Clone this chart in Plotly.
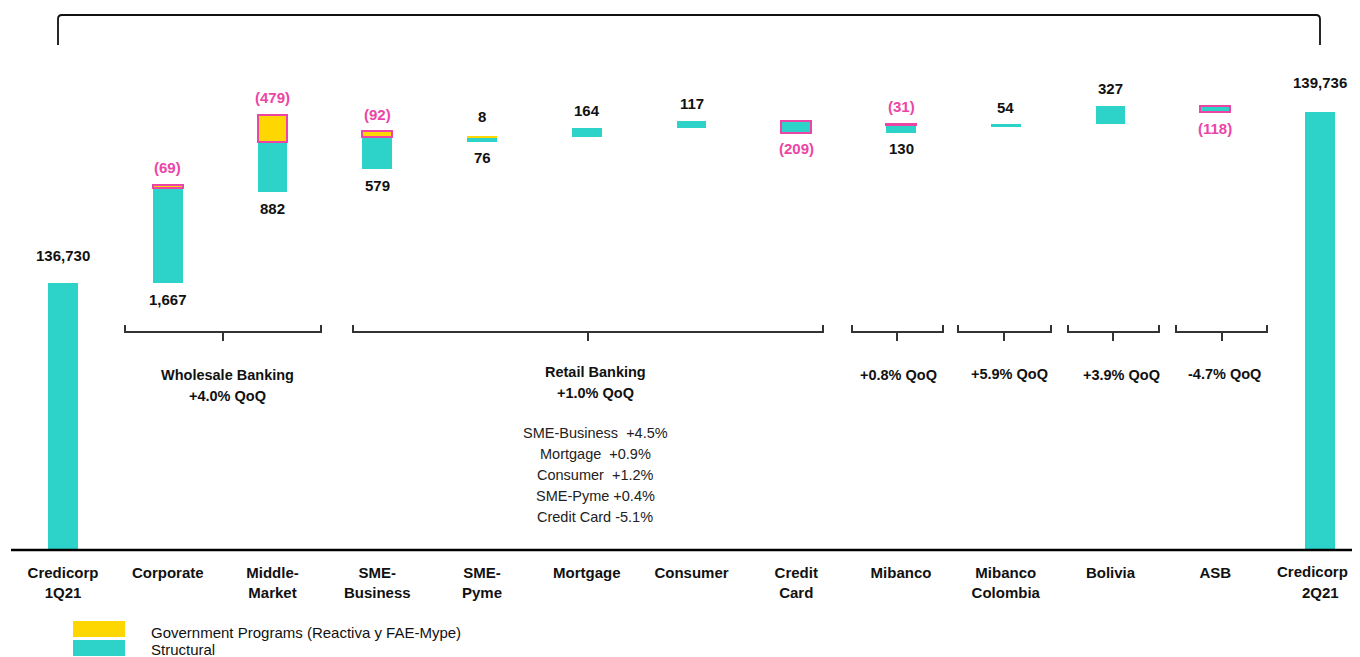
import plotly.graph_objects as go

# ---------------- data ----------------
categories = ["Credicorp<br>1Q21", "Corporate", "Middle-<br>Market", "SME-<br>Business", "SME-<br>Pyme",
              "Mortgage", "Consumer", "Credit<br>Card", "Mibanco", "Mibanco<br>Colombia", "Bolivia", "ASB",
              "Credicorp<br>2Q21"]
start_total = 136730
end_total = 139736
structural = [1667, 882, 579, 76, 164, 117, -209, 130, 54, 327, -118]
government = [-69, -479, -92, 8, None, None, None, -31, None, None, None]

group_titles = [["Wholesale Banking", "+4.0% QoQ"], ["Retail Banking", "+1.0% QoQ"],
                ["+0.8% QoQ"], ["+5.9% QoQ"], ["+3.9% QoQ"], ["-4.7% QoQ"]]
retail_detail = ["SME-Business  +4.5%", "Mortgage  +0.9%", "Consumer  +1.2%", "SME-Pyme +0.4%", "Credit Card -5.1%"]
legend_names = ["Government Programs (Reactiva y FAE-Mype)", "Structural"]

# ---------------- style ----------------
TEAL = "#2DD2C8"
YELLOW = "#FFD700"
PINK = "#EC45A6"
FONT = "Arial, Liberation Sans, sans-serif"
OFF = 8                  # page body margin of the browser
W, H = 1360 - 2 * OFF, 657 - OFF
AXIS_REF = 550           # pixel row of the category axis (reference coords)
AXIS_PX = AXIS_REF - OFF
X0_REF, STEP_PX = 63, 104.75
Y_MIN = 132042           # value at the axis line (broken axis)
PX_PER_UNIT = 0.05689


def xd(px_ref):
    return (px_ref - X0_REF) / STEP_PX


def pxp(px_ref):
    return (px_ref - OFF) / W


def py(py_ref):
    return (AXIS_REF - py_ref) / AXIS_PX


def fmt(v):
    return f"({abs(v):,})" if v < 0 else f"{v:,}"


n_mid = len(structural)
xs_mid = list(range(1, n_mid + 1))

# running totals
starts = []
r = start_total
for s, g in zip(structural, government):
    starts.append(r)
    r += s + (g or 0)

fig = go.Figure()

# totals
fig.add_trace(go.Bar(x=[0, n_mid + 1], y=[start_total - Y_MIN, end_total - Y_MIN], base=[Y_MIN, Y_MIN],
                     width=0.286, marker=dict(color=TEAL, line=dict(width=0)), showlegend=False,
                     hoverinfo="skip"))
# structural
fig.add_trace(go.Bar(x=xs_mid, y=structural, base=starts, width=0.286,
                     marker=dict(color=TEAL,
                                 line=dict(color=[PINK if s < 0 else TEAL for s in structural],
                                           width=[2 if s < 0 else 0 for s in structural])),
                     showlegend=False, hoverinfo="skip"))
# government programs (box on top of structural)
gx, gy, gb, glw = [], [], [], []
for i, (s, g, st) in enumerate(zip(structural, government, starts)):
    if g is None:
        continue
    gx.append(i + 1)
    gy.append(abs(g))
    gb.append(st + s)
    glw.append(2 if g < 0 else 0)
fig.add_trace(go.Bar(x=gx, y=gy, base=gb, width=0.286,
                     marker=dict(color=YELLOW, line=dict(color=PINK, width=glw)),
                     showlegend=False, hoverinfo="skip"))

ann = []


def label(x, y, text, color, shift):
    ann.append(dict(x=x, y=y, xref="x", yref="y", text=f"<b>{text}</b>", showarrow=False,
                    yanchor="middle", yshift=shift, font=dict(family=FONT, size=15, color=color)))


label(0, start_total, fmt(start_total), "#111", 28)
label(n_mid + 1, end_total, fmt(end_total), "#111", 30)
for i, (s, g, st) in enumerate(zip(structural, government, starts)):
    x = i + 1
    if g is not None:
        top = st + s + abs(g)
        label(x, top, fmt(g), PINK if g < 0 else "#111", 20 if g > 0 else 17)
        label(x, st, fmt(s), "#111", -16)
    elif s >= 0:
        label(x, st + s, fmt(s), "#111", 17)
    else:
        label(x, st + s, fmt(s), PINK, -16)

shapes = []
# axis line
shapes.append(dict(type="line", xref="paper", yref="paper", x0=pxp(11), x1=1, y0=0, y1=0,
                   line=dict(color="#000", width=2.5)))
# top bracket
lx, rx = pxp(58), pxp(1320)
shapes.append(dict(type="path", xref="paper", yref="paper",
                   path=f"M {lx},{py(45)} L {lx},{py(19)} Q {lx},{py(15)} {lx + 4 / W},{py(15)} "
                        f"L {rx - 4 / W},{py(15)} Q {rx},{py(15)} {rx},{py(19)} L {rx},{py(45)}",
                   line=dict(color="#111", width=1.8)))
# group brackets (pixel extents)
brackets = [(125, 321, 223), (353, 823, 588), (852, 943, 897), (958, 1051, 1004), (1068, 1159, 1113),
            (1176, 1267, 1222)]
for a, b, c in brackets:
    shapes.append(dict(type="path", xref="paper", yref="paper",
                       path=f"M {pxp(a)},{py(325)} L {pxp(a)},{py(332)} L {pxp(b)},{py(332)} L {pxp(b)},{py(325)} "
                            f"M {pxp(c)},{py(332)} L {pxp(c)},{py(341)}",
                       line=dict(color="#333", width=2)))


def text_line(xp, yp, t, size, bold, color, anchor="center"):
    ann.append(dict(x=pxp(xp), y=py(yp), xref="paper", yref="paper",
                    text=f"<b>{t}</b>" if bold else t, showarrow=False,
                    xanchor=anchor, yanchor="middle", font=dict(family=FONT, size=size, color=color)))


# group titles
title_pos = [(227, 375), (595, 372), (898, 375), (1009, 374), (1121, 375), (1224, 374)]
for (xp, yp), lines in zip(title_pos, group_titles):
    for k, t in enumerate(lines):
        text_line(xp, yp + 21 * k, t, 14.5, True, "#111")
for k, t in enumerate(retail_detail):
    text_line(595, 433 + 21 * k, t, 14.5, False, "#222")

# last category label sits at the page edge: draw it as text kept inside the page
last_lines = categories[-1].split("<br>")
text_line(1350, 572, last_lines[0], 15, True, "#111", anchor="right")
text_line(1320, 592, last_lines[1], 15, True, "#111")

# legend
for (y0, y1), col, name, ty in [((621, 637), YELLOW, legend_names[0], 632), ((640, 656), TEAL, legend_names[1], 649)]:
    shapes.append(dict(type="rect", xref="paper", yref="paper", x0=pxp(73), x1=pxp(125), y0=py(y1), y1=py(y0),
                       fillcolor=col, line=dict(width=0)))
    text_line(149, ty, name, 15, False, "#111", anchor="left")

top_val = Y_MIN + AXIS_PX / PX_PER_UNIT
fig.update_layout(
    width=W, height=H, margin=dict(l=0, r=0, t=0, b=H - AXIS_PX),
    paper_bgcolor="white", plot_bgcolor="white", barmode="overlay", bargap=0,
    showlegend=False, annotations=ann, shapes=shapes,
    xaxis=dict(range=[xd(OFF), xd(OFF + W)], tickmode="array", tickvals=list(range(len(categories) - 1)),
               ticktext=[f"<b>{c}</b>" for c in categories[:-1]], showgrid=False, zeroline=False,
               showline=False, ticks="", tickfont=dict(family=FONT, size=15, color="#111"),
               ticklabelstandoff=12, automargin=False, fixedrange=True),
    yaxis=dict(range=[Y_MIN, top_val], visible=False, fixedrange=True),
)

fig.write_html("out.html")
